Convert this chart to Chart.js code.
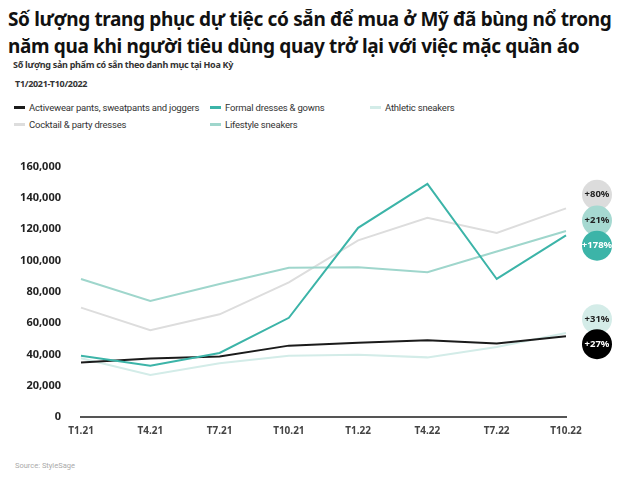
<!DOCTYPE html>
<html lang="vi">
<head>
<meta charset="UTF-8">
<title>Trang phục dự tiệc</title>
<script src="https://cdn.jsdelivr.net/npm/chart.js"></script>
<style>
  body { margin: 0; width: 624px; height: 482px; background: #fff; position: relative; overflow: hidden; font-family: "Noto Sans", sans-serif; }
  h1 { position: absolute; left: 8px; top: 6px; margin: 0; font-size: 19px; line-height: 27px; font-weight: 700; color: #111; letter-spacing: -0.35px; white-space: nowrap; }
  .sub { position: absolute; font-size: 9px; letter-spacing: -0.3px; font-weight: 700; color: #333; white-space: nowrap; }
  #legend { position: absolute; left: 14px; top: 102px; width: 600px; font-family: Roboto, sans-serif; font-size: 9.5px; letter-spacing: -0.2px; color: #333; }
  .item { position: absolute; white-space: nowrap; }
  .item span.mk { display: inline-block; width: 11px; height: 3px; vertical-align: middle; margin-right: 4px; position: relative; top: -1px; }
  #wrap { position: absolute; left: 0; top: 140px; width: 624px; height: 310px; }
  .src { position: absolute; left: 15px; top: 461px; font-size: 7.5px; color: #aaa; font-family: Roboto, sans-serif; }
</style>
</head>
<body>
<h1>Số lượng trang phục dự tiệc có sẵn để mua ở Mỹ đã bùng nổ trong<br>năm qua khi người tiêu dùng quay trở lại với việc mặc quần áo</h1>
<div class="sub" style="top:58px; left:13px">Số lượng sản phẩm có sẵn theo danh mục tại Hoa Kỳ</div>
<div class="sub" style="top:77px; left:15px">T1/2021-T10/2022</div>
<div id="legend"></div>
<div id="wrap"><canvas id="c"></canvas></div>
<div class="src">Source: StyleSage</div>
<script>
const labels = ['T1.21', 'T4.21', 'T7.21', 'T10.21', 'T1.22', 'T4.22', 'T7.22', 'T10.22'];
const activewear = [34800, 37400, 38700, 45600, 47500, 49000, 46900, 51600];
const formal = [39100, 32700, 40900, 63400, 120900, 149000, 88200, 116100];
const athletic = [37600, 26900, 34400, 39100, 39800, 38100, 44700, 53700];
const cocktail = [69900, 55500, 65600, 86000, 112900, 127300, 117600, 133300];
const lifestyle = [88200, 74200, 85000, 95300, 95700, 92500, 105800, 118900];
const yTicks = [0, 20000, 40000, 60000, 80000, 100000, 120000, 140000, 160000];

// nhãn tăng trưởng bên phải
const badgeText = ['+80%', '+21%', '+178%', '+31%', '+27%'];
const badgeAt = [142000, 125500, 109500, 62500, 46500];
const badgeFill = ['#dcdcdc', '#a6d9d1', '#3cb4a8', '#d4ece8', '#000000'];
const badgeInk = ['#222', '#222', '#fff', '#222', '#fff'];

const series = [
  { label: 'Activewear pants, sweatpants and joggers', data: activewear, color: '#1b1b1b', order: 1, col: 0, row: 0 },
  { label: 'Formal dresses & gowns', data: formal, color: '#3cb4a8', order: 0, col: 1, row: 0 },
  { label: 'Athletic sneakers', data: athletic, color: '#d3ece8', order: 3, col: 2, row: 0 },
  { label: 'Cocktail & party dresses', data: cocktail, color: '#dddddd', order: 4, col: 0, row: 1 },
  { label: 'Lifestyle sneakers', data: lifestyle, color: '#9fd6cc', order: 2, col: 1, row: 1 }
];

const colX = [0, 196, 356];
const legend = document.getElementById('legend');
series.forEach(s => {
  const d = document.createElement('div');
  d.className = 'item';
  d.style.left = colX[s.col] + 'px';
  d.style.top = (s.row * 17) + 'px';
  d.innerHTML = '<span class="mk" style="background:' + s.color + '"></span>' + s.label;
  legend.appendChild(d);
});

const badges = {
  id: 'badges',
  afterDatasetsDraw(chart) {
    const ctx = chart.ctx;
    const y = chart.scales.y;
    const cx = chart.chartArea.right + 31;
    ctx.save();
    badgeText.forEach((t, i) => {
      const cy = y.getPixelForValue(badgeAt[i]);
      ctx.beginPath();
      ctx.arc(cx, cy, 15, 0, Math.PI * 2);
      ctx.fillStyle = badgeFill[i];
      ctx.fill();
      ctx.fillStyle = badgeInk[i];
      ctx.font = 'bold 9.5px "Noto Sans"';
      ctx.textAlign = 'center';
      ctx.textBaseline = 'middle';
      ctx.fillText(t, cx, cy);
    });
    ctx.restore();
  }
};

new Chart(document.getElementById('c'), {
  type: 'line',
  data: {
    labels: labels,
    datasets: series.map(s => ({
      label: s.label,
      data: s.data,
      borderColor: s.color,
      backgroundColor: s.color,
      borderWidth: 2,
      pointRadius: 0,
      tension: 0,
      order: s.order
    }))
  },
  options: {
    responsive: true,
    maintainAspectRatio: false,
    animation: false,
    layout: { padding: { top: 21, right: 58, left: 0, bottom: 5 } },
    plugins: { legend: { display: false }, tooltip: { enabled: false } },
    scales: {
      x: {
        offset: false,
        grid: { display: false, drawTicks: false },
        border: { display: true, color: '#555', width: 2 },
        ticks: { color: '#444', font: { family: 'Noto Sans', size: 10, weight: 'bold' }, padding: 8, maxRotation: 0, autoSkip: false }
      },
      y: {
        min: 0,
        max: 160000,
        afterBuildTicks: axis => { axis.ticks = yTicks.map(v => ({ value: v })); },
        afterFit: axis => { axis.width = 81; },
        grid: { display: false, drawTicks: false },
        border: { display: false },
        ticks: {
          color: '#222',
          padding: 20,
          font: { family: 'Noto Sans', size: 11, weight: 'bold' },
          callback: v => v.toLocaleString('en-US')
        }
      }
    }
  },
  plugins: [badges]
});
</script>
</body>
</html>
